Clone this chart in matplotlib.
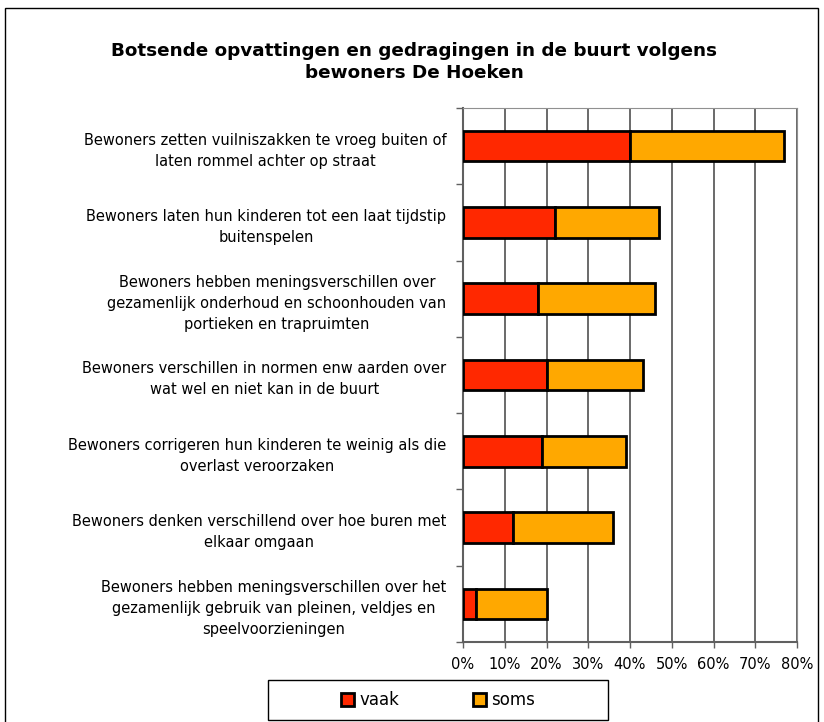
import matplotlib
matplotlib.use("Agg")
import matplotlib.pyplot as plt
from matplotlib.patches import Rectangle
import numpy as np

categories = [
    "Bewoners zetten vuilniszakken te vroeg buiten of\nlaten rommel achter op straat",
    "Bewoners laten hun kinderen tot een laat tijdstip\nbuitenspelen",
    "Bewoners hebben meningsverschillen over\ngezamenlijk onderhoud en schoonhouden van\nportieken en trapruimten",
    "Bewoners verschillen in normen enw aarden over\nwat wel en niet kan in de buurt",
    "Bewoners corrigeren hun kinderen te weinig als die\noverlast veroorzaken",
    "Bewoners denken verschillend over hoe buren met\nelkaar omgaan",
    "Bewoners hebben meningsverschillen over het\ngezamenlijk gebruik van pleinen, veldjes en\nspeelvoorzieningen",
]
vaak = [40, 22, 18, 20, 19, 12, 3]
soms = [37, 25, 28, 23, 20, 24, 17]
xticks = [0, 10, 20, 30, 40, 50, 60, 70, 80]

plt.rcParams['font.family'] = ['DejaVu Sans']

W, H = 824, 722
fig = plt.figure(figsize=(W / 100, H / 100), dpi=100)

# outer chart border
fig.patches.append(Rectangle((5 / W, -0.01), 813 / W, 1 - 8 / H + 0.01,
                             transform=fig.transFigure, fill=False,
                             edgecolor='black', linewidth=1))

ax = fig.add_axes([463 / W, 1 - 642 / H, 334 / W, 534 / H])

y = np.arange(len(categories))[::-1]
ax.barh(y, vaak, height=0.4, color='#FF2800', edgecolor='black', linewidth=2,
        label='vaak', zorder=3)
ax.barh(y, soms, left=vaak, height=0.4, color='#FFA800', edgecolor='black',
        linewidth=2, label='soms', zorder=3)

ax.set_xlim(0, 80)
ax.set_ylim(-0.5, len(categories) - 0.5)
ax.set_xticks(xticks)
ax.set_xticklabels([f"{v}%" for v in xticks], fontsize=10.5)
ax.tick_params(axis='x', length=4, width=1, color='#606060', pad=7)

ax.set_yticks(y)
ax.set_yticklabels(categories, fontsize=10.5, multialignment='center',
                   linespacing=1.5)
ax.tick_params(axis='y', length=0, pad=12)
ax.set_yticks(np.arange(len(categories) + 1) - 0.5, minor=True)
ax.tick_params(axis='y', which='minor', length=5, width=1, color='#606060')

ax.grid(axis='x', color='#505050', linewidth=1.2, zorder=0)
for s in ['top', 'right']:
    ax.spines[s].set_color('#909090')
ax.spines['left'].set_color('#606060')
ax.spines['bottom'].set_color('#606060')
ax.spines['left'].set_linewidth(1.5)
ax.spines['bottom'].set_linewidth(1.5)

fig.text(414 / W, 1 - 62 / H,
         "Botsende opvattingen en gedragingen in de buurt volgens\nbewoners De Hoeken",
         ha='center', va='center', fontsize=13.2, fontweight='bold',
         linespacing=1.25)

# legend box
fig.patches.append(Rectangle((268 / W, 1 - 720 / H), 340 / W, 40 / H,
                             transform=fig.transFigure, fill=True,
                             facecolor='white', edgecolor='black',
                             linewidth=1, zorder=5))
handles, labels = ax.get_legend_handles_labels()
leg = fig.legend(handles, labels, loc='center',
                 bbox_to_anchor=(438 / W, 1 - 700 / H), ncol=2,
                 fontsize=12, frameon=False,
                 handlelength=0.8, handleheight=0.8,
                 handletextpad=0.3, columnspacing=4.4)
leg.set_zorder(6)

fig.savefig("out.png", dpi=100)
